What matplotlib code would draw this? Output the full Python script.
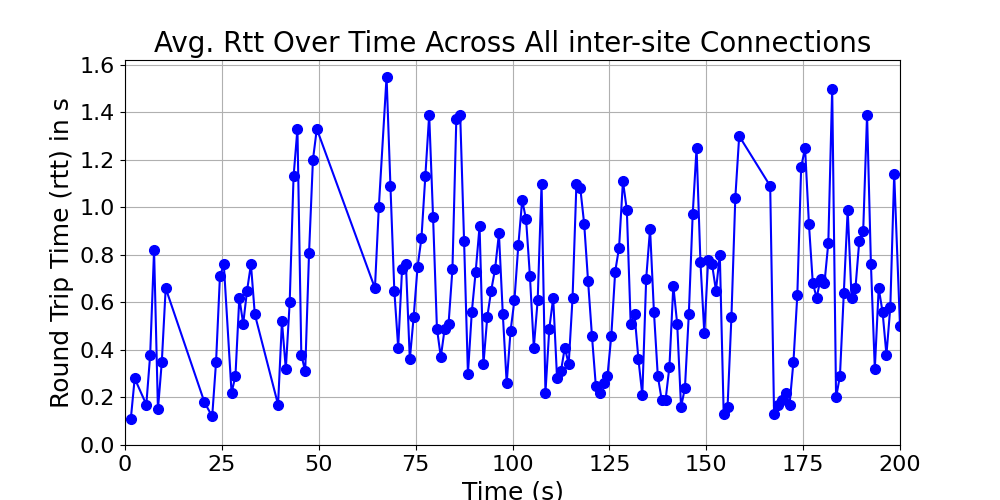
import matplotlib
matplotlib.use("Agg")
import matplotlib.pyplot as plt

time_s = [1.5, 2.5, 5.5, 6.5, 7.5, 8.5, 9.5, 10.5, 20.5, 22.5, 23.5, 24.5, 25.5, 27.5, 28.5,
          29.5, 30.5, 31.5, 32.5, 33.5, 39.5, 40.5, 41.5, 42.5, 43.5, 44.5, 45.5, 46.5, 47.5,
          48.5, 49.5, 64.5, 65.5, 67.5, 68.5, 69.5, 70.5, 71.5, 72.5, 73.5, 74.5, 75.5, 76.5,
          77.5, 78.5, 79.5, 80.5, 81.5, 82.5, 83.5, 84.5, 85.5, 86.5, 87.5, 88.5, 89.5, 90.5,
          91.5, 92.5, 93.5, 94.5, 95.5, 96.5, 97.5, 98.5, 99.5, 100.5, 101.5, 102.5, 103.5,
          104.5, 105.5, 106.5, 107.5, 108.5, 109.5, 110.5, 111.5, 112.5, 113.5, 114.5, 115.5,
          116.5, 117.5, 118.5, 119.5, 120.5, 121.5, 122.5, 123.5, 124.5, 125.5, 126.5, 127.5,
          128.5, 129.5, 130.5, 131.5, 132.5, 133.5, 134.5, 135.5, 136.5, 137.5, 138.5, 139.5,
          140.5, 141.5, 142.5, 143.5, 144.5, 145.5, 146.5, 147.5, 148.5, 149.5, 150.5, 151.5,
          152.5, 153.5, 154.5, 155.5, 156.5, 157.5, 158.5, 166.5, 167.5, 168.5, 169.5, 170.5,
          171.5, 172.5, 173.5, 174.5, 175.5, 176.5, 177.5, 178.5, 179.5, 180.5, 181.5, 182.5,
          183.5, 184.5, 185.5, 186.5, 187.5, 188.5, 189.5, 190.5, 191.5, 192.5, 193.5, 194.5,
          195.5, 196.5, 197.5, 198.5, 200]
rtt = [0.11, 0.28, 0.17, 0.38, 0.82, 0.15, 0.35, 0.66, 0.18, 0.12, 0.35, 0.71, 0.76, 0.22, 0.29,
       0.62, 0.51, 0.65, 0.76, 0.55, 0.17, 0.52, 0.32, 0.60, 1.13, 1.33, 0.38, 0.31, 0.81,
       1.20, 1.33, 0.66, 1.00, 1.55, 1.09, 0.65, 0.41, 0.74, 0.76, 0.36, 0.54, 0.75, 0.87,
       1.13, 1.39, 0.96, 0.49, 0.37, 0.49, 0.51, 0.74, 1.37, 1.39, 0.86, 0.30, 0.56, 0.73,
       0.92, 0.34, 0.54, 0.65, 0.74, 0.89, 0.55, 0.26, 0.48, 0.61, 0.84, 1.03, 0.95,
       0.71, 0.41, 0.61, 1.10, 0.22, 0.49, 0.62, 0.28, 0.31, 0.41, 0.34, 0.62,
       1.10, 1.08, 0.93, 0.69, 0.46, 0.25, 0.22, 0.26, 0.29, 0.46, 0.73, 0.83,
       1.11, 0.99, 0.51, 0.55, 0.36, 0.21, 0.70, 0.91, 0.56, 0.29, 0.19, 0.19,
       0.33, 0.67, 0.51, 0.16, 0.24, 0.55, 0.97, 1.25, 0.77, 0.47, 0.78, 0.76,
       0.65, 0.80, 0.13, 0.16, 0.54, 1.04, 1.30, 1.09, 0.13, 0.17, 0.19, 0.22,
       0.17, 0.35, 0.63, 1.17, 1.25, 0.93, 0.68, 0.62, 0.70, 0.68, 0.85, 1.50,
       0.20, 0.29, 0.64, 0.99, 0.62, 0.66, 0.86, 0.90, 1.39, 0.76, 0.32, 0.66,
       0.56, 0.38, 0.58, 1.14, 0.50]
y_ticks = [0.0, 0.2, 0.4, 0.6, 0.8, 1.0, 1.2, 1.4, 1.6]

fig, ax = plt.subplots(figsize=(10, 5), dpi=100)
ax.plot(time_s, rtt, color="blue", marker="o", markersize=7)
ax.set_xlim(0, 200)
ax.set_ylim(0, 1.62)
ax.set_yticks(y_ticks)
ax.set_yticklabels([f"{t:.1f}" for t in y_ticks])
ax.grid(True)
ax.set_title("Avg. Rtt Over Time Across All inter-site Connections", fontsize=20)
ax.set_xlabel("Time (s)", fontsize=18)
ax.set_ylabel("Round Trip Time (rtt) in s", fontsize=18)
ax.tick_params(labelsize=16)
fig.savefig("out.png")
